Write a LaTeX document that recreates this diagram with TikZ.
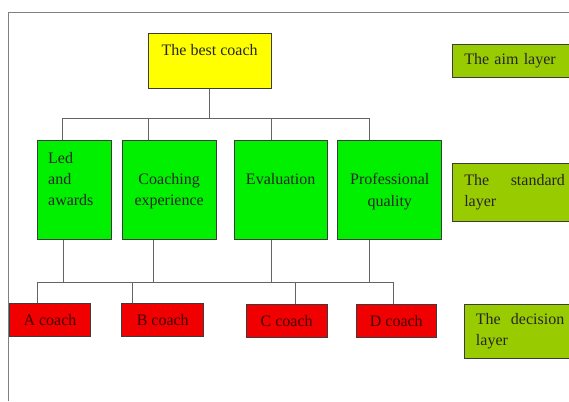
\documentclass[tikz,border=0pt]{standalone}
\usepackage{fontspec}
\setmainfont{Liberation Serif}
\usetikzlibrary{positioning}

\definecolor{aimyellow}{RGB}{255,255,0}
\definecolor{critgreen}{RGB}{0,240,0}
\definecolor{coachred}{RGB}{240,0,0}
\definecolor{layerolive}{RGB}{153,204,0}
\definecolor{wiregray}{RGB}{100,100,100}
\definecolor{edgegray}{RGB}{60,60,60}
\definecolor{framegray}{RGB}{128,128,128}

% height, width, top gap, alignment, text
\newcommand{\topcell}[5]{\parbox[c][#1][t]{#2}{#4\vspace*{#3}#5\par}}

\begin{document}
\begin{tikzpicture}[
  x=1pt, y=-1pt,
  font=\fontsize{16}{21.3}\selectfont,
  cell/.style={draw=edgegray, line width=0.9pt, inner sep=0pt,
               anchor=north west, text=black!85},
  goal/.style={cell, fill=aimyellow},
  crit/.style={cell, fill=critgreen},
  coach/.style={cell, fill=coachred, minimum height=32.7pt, text=black!75!red},
  layer/.style={cell, fill=layerolive, inner xsep=11.5pt, align=left},
  wire/.style={draw=wiregray, line width=0.9pt},
  frame/.style={draw=framegray, line width=0.9pt}
]
  \useasboundingbox (0,0) rectangle (569,401);
  \clip (0,0) rectangle (569,401);
  \draw[frame] (569,12.7) -- (8.3,12.7) -- (8.3,401);

  % aim
  \node[goal] (best) at (147.7,33.3)
    {\topcell{54.4pt}{123pt}{10.8pt}{\centering}{The best coach}};
  \node[layer, text width=100pt, minimum height=32.4pt] (aim) at (452.3,44.3) {The aim layer};

  % criteria
  \node[crit] (led)  at (37,140)
    {\topcell{99.3pt}{74pt}{11.8pt}{\raggedright\leftskip=10.7pt}{Led\\and\\awards}};
  \node[crit] (exp)  at (121.7,140)
    {\topcell{99.3pt}{94pt}{33.1pt}{\centering}{Coaching\\experience}};
  \node[crit] (eval) at (233.7,140)
    {\topcell{99.3pt}{93pt}{33.1pt}{\centering}{Evaluation}};
  \node[crit] (prof) at (337.3,140)
    {\topcell{99.3pt}{104pt}{33.1pt}{\centering}{Professional\\quality}};
  \node[layer, text width=100.7pt, minimum height=58.3pt] (std) at (452.3,162.7)
    {The\hfill standard\\layer};

  % decisions
  \node[coach, minimum width=81pt]   (ca) at (9,303.3)     {A coach};
  \node[coach, minimum width=82pt]   (cb) at (121.3,303.3) {B coach};
  \node[coach, minimum width=81pt]   (cc) at (245.7,304.3) {C coach};
  \node[coach, minimum width=79.7pt] (cd) at (356,304.3)   {D coach};
  \node[layer, text width=88.3pt, minimum height=54.6pt] (dec) at (464,303.7)
    {The\hfill decision\\layer};

  % buses
  \coordinate (topL) at (62,118.3);
  \coordinate (topR) at (369,118.3);
  \coordinate (lowL) at (37,282.3);
  \coordinate (lowR) at (392.7,282.3);

  \draw[wire] (best.south) -- (best.south |- topL);
  \draw[wire] (topL) -- (topR);
  \foreach \nd/\dx in {led/-12, exp/-21, eval/-9.5, prof/-20.3}
    \draw[wire] ([xshift=\dx pt]\nd.north) -- ([xshift=\dx pt]\nd.north |- topL);

  \draw[wire] (lowL) -- (lowR);
  \foreach \nd/\dx in {led/-10.7, exp/-15.4, eval/-9.5, prof/-20.3}
    \draw[wire] ([xshift=\dx pt]\nd.south) -- ([xshift=\dx pt]\nd.south |- lowL);
  \foreach \nd/\dx in {ca/-12.5, cb/-30.6, cc/9.1, cd/-3.2}
    \draw[wire] ([xshift=\dx pt]\nd.north) -- ([xshift=\dx pt]\nd.north |- lowL);
\end{tikzpicture}
\end{document}
